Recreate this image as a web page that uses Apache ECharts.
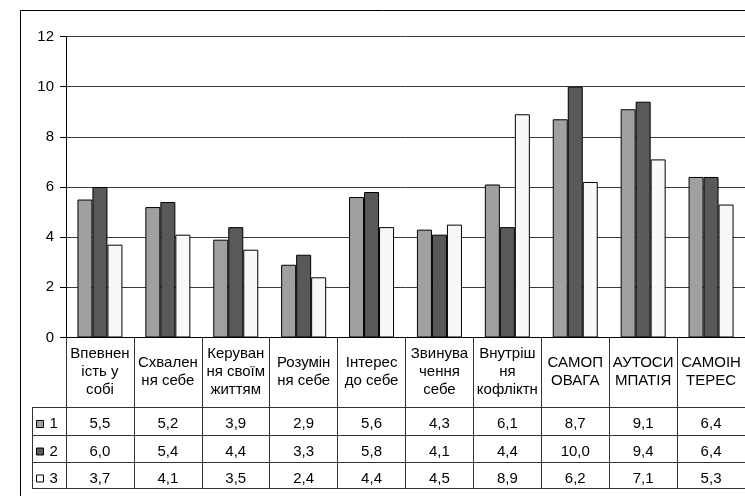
<!DOCTYPE html>
<html>
<head>
<meta charset="utf-8">
<script src="https://cdn.jsdelivr.net/npm/echarts@6/dist/echarts.min.js"></script>
<style>
html,body{margin:0;padding:0;background:#fff;}
#c{width:745px;height:496px;}
</style>
</head>
<body>
<div id="c"></div>
<script>
const categories = ["Впевнен\nість у\nсобі", "Схвален\nня себе", "Керуван\nня своїм\nжиттям", "Розумін\nня себе", "Інтерес\nдо себе", "Звинува\nчення\nсебе", "Внутріш\nня\nкофліктн", "САМОП\nОВАГА", "АУТОСИ\nМПАТІЯ", "САМОІН\nТЕРЕС"];
const seriesNames = ["1", "2", "3"];
const series1 = [5.5, 5.2, 3.9, 2.9, 5.6, 4.3, 6.1, 8.7, 9.1, 6.4];
const series2 = [6.0, 5.4, 4.4, 3.3, 5.8, 4.1, 4.4, 10.0, 9.4, 6.4];
const series3 = [3.7, 4.1, 3.5, 2.4, 4.4, 4.5, 8.9, 6.2, 7.1, 5.3];
const yTicks = [0, 2, 4, 6, 8, 10, 12];

const allSeries = [series1, series2, series3];
const colors = ["#a0a0a0", "#595959", "#f8f8f8"];
const FONT = "Liberation Sans";
const FS = 15;
const fmt = v => v.toFixed(1).replace('.', ',');

const gridLeft = 66, gridTop = 36.5, gridH = 301, gridW = 684;
const axisY = gridTop + gridH;
const rowLines = [407, 434.5, 462, 488];
const rowCenters = [424, 451.5, 478.5];

const chart = echarts.init(document.getElementById('c'), null, {renderer: 'canvas'});

const xAxes = [{
  type: 'category',
  data: categories,
  gridIndex: 0,
  position: 'bottom',
  axisLine: {show: true, lineStyle: {color: '#000', width: 1}},
  axisTick: {show: true, length: rowLines[3] - axisY, lineStyle: {color: '#333', width: 1}},
  axisLabel: {
    interval: 0, margin: 34, verticalAlign: 'middle', align: 'center',
    fontFamily: FONT, fontSize: FS, lineHeight: 18, color: '#000'
  },
  splitLine: {show: false}
}];
allSeries.forEach((arr, k) => {
  xAxes.push({
    type: 'category',
    data: categories,
    gridIndex: 0,
    position: 'bottom',
    axisLine: {show: false},
    axisTick: {show: false},
    axisLabel: {
      interval: 0, margin: rowCenters[k] - axisY, verticalAlign: 'middle', align: 'center',
      fontFamily: FONT, fontSize: FS, color: '#000',
      formatter: (val, idx) => fmt(arr[idx])
    },
    splitLine: {show: false}
  });
});

const graphics = [
  {type: 'rect', shape: {x: 20.5, y: 10.5, width: 900, height: 700}, style: {fill: 'none', stroke: '#000', lineWidth: 1}, z: -10, silent: true}
];
rowLines.forEach(y => {
  graphics.push({type: 'line', shape: {x1: 32, y1: Math.round(y) + 0.5, x2: 760, y2: Math.round(y) + 0.5}, style: {stroke: '#333', lineWidth: 1}, silent: true});
});
graphics.push({type: 'line', shape: {x1: 32.5, y1: rowLines[0], x2: 32.5, y2: rowLines[3] + 1}, style: {stroke: '#333', lineWidth: 1}, silent: true});

const legends = seriesNames.map((n, k) => ({
  data: [n],
  left: 36,
  top: rowCenters[k] - 7.5,
  padding: 0,
  orient: 'horizontal',
  icon: 'rect',
  itemWidth: 7,
  itemHeight: 7,
  itemStyle: {borderColor: '#000', borderWidth: 1},
  textStyle: {fontFamily: FONT, fontSize: FS, color: '#000', padding: [0, 0, 0, 1]},
  selectedMode: false
}));

chart.setOption({
  animation: false,
  backgroundColor: '#fff',
  grid: {left: gridLeft, top: gridTop, width: gridW, height: gridH, containLabel: false},
  legend: legends,
  xAxis: xAxes,
  yAxis: {
    type: 'value',
    min: yTicks[0], max: yTicks[yTicks.length - 1], interval: 2,
    axisLine: {show: true, lineStyle: {color: '#000', width: 1}},
    axisTick: {show: true, length: 6, lineStyle: {color: '#000'}},
    axisLabel: {fontFamily: FONT, fontSize: FS, color: '#000', margin: 12},
    splitLine: {show: true, lineStyle: {color: '#3a3a3a', width: 1}}
  },
  series: allSeries.map((arr, k) => ({
    name: seriesNames[k],
    type: 'bar',
    data: arr,
    barWidth: 15,
    barGap: '0%',
    itemStyle: {color: colors[k], borderColor: '#000', borderWidth: 1},
    emphasis: {disabled: true}
  })),
  graphic: graphics
});
</script>
</body>
</html>
